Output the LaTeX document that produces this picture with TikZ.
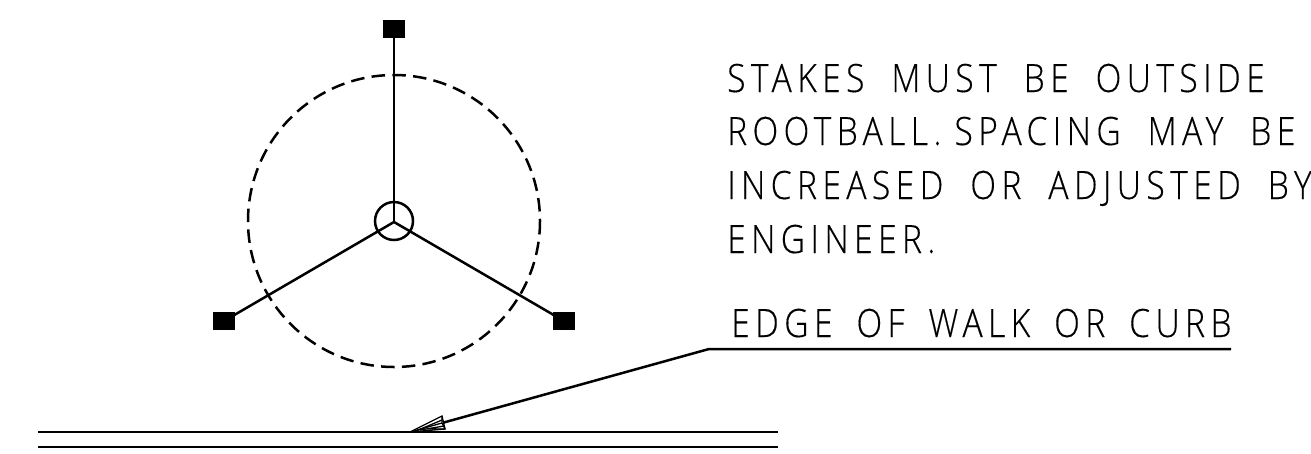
\documentclass[tikz,border=0pt]{standalone}
\usepackage{fontspec}
\setmainfont{Liberation Sans}
\newfontfamily\cadfont[FakeStretch=0.86,LetterSpace=14,FakeBold=0.3]{Open Sans Light}
\newcommand\cadwords{\spaceskip=27pt\relax}
\newcommand\cadwordsshort{\spaceskip=24pt\relax}
\tikzset{
  line/.style={draw=black,line width=2.5pt},
  stake/.style={fill=black,draw=none,minimum width=22pt,minimum height=18pt,inner sep=0pt},
  cad/.style={anchor=base west,inner sep=0pt,font=\fontsize{39}{39}\cadfont,text=black,execute at begin node={\cadwords}},
  thin/.style={draw=black,line width=1.3pt}
}
\begin{document}
\begin{tikzpicture}[x=1pt,y=-1pt]
\useasboundingbox (0,0) rectangle (1311,453);
\coordinate (hub) at (394,222);
\node[stake] (s1) at (394,29) {};
\node[stake] (s2) at (224,321) {};
\node[stake] (s3) at (564,321) {};
\draw[line] (hub) -- (s1.center);
\draw[line] (hub) -- (s2.center);
\draw[line] (hub) -- (s3.center);
\draw[line] (394,221) circle (19);
\draw[line,dash pattern=on 13.5pt off 7.3pt] (394,221) circle (146);
\coordinate (walkA) at (38,432);
\coordinate (walkB) at (778,432);
\coordinate (curbA) at (38,447);
\coordinate (curbB) at (778,447);
\draw[line] (walkA) -- (walkB);
\draw[line] (curbA) -- (curbB);
\node[cad] (t1) at (727,92) {STAKES MUST BE OUTSIDE};
\node[cad] (t2) at (727,145) {ROOTBALL.\hspace{-14pt} SPACING MAY BE};
\node[cad] (t3) at (727,199) {INCREASED OR ADJUSTED BY};
\node[cad] (t4) at (727,253) {ENGINEER.};
\node[cad,execute at begin node={\cadwordsshort}] (t5) at (731,337) {EDGE OF WALK OR CURB};
\coordinate (tip) at (410,432);
\coordinate (neck) at (442,423);
\coordinate (elbow) at (709,349);
\coordinate (end) at (1231,349);
\draw[line] (end) -- (elbow) -- (neck);
\draw[thin,fill=white] (tip) -- (442,416) -- (445,429) -- cycle;
\draw[thin] (tip) -- (neck) (442,416) -- (neck) -- (445,429);
\draw[thin] (420,430) -- (444,426) (426,429) -- (445,429) (416,431) -- (442,420);
\end{tikzpicture}
\end{document}
